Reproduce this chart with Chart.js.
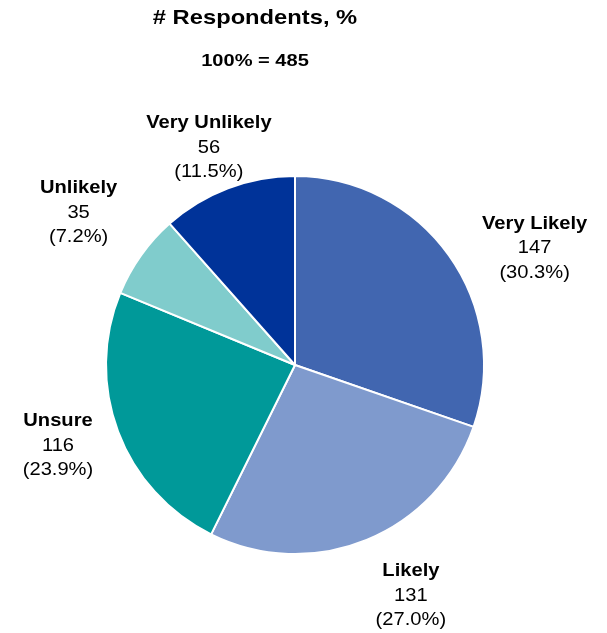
<!DOCTYPE html>
<html>
<head>
<meta charset="utf-8">
<title>Respondents</title>
<script src="https://cdn.jsdelivr.net/npm/chart.js@4.4.1/dist/chart.umd.min.js"></script>
<style>
    html, body { margin: 0; padding: 0; background: #fff; }
    canvas { display: block; }
</style>
</head>
<body>
<canvas id="chart-pie" width="607" height="633"></canvas>
<script>
'use strict';

// Survey answers, clockwise from 12 o'clock
let categories = ['Very Likely', 'Likely', 'Unsure', 'Unlikely', 'Very Unlikely'];
let respondents = [147, 131, 116, 35, 56];
let sliceColors = ['#4166b0', '#7f9acd', '#009999', '#80cccc', '#003399'];
let heading = '# Respondents, %';

let total = respondents.reduce((a, b) => a + b, 0);

let fontFamily = '"Liberation Sans", Arial, sans-serif';

// fillText with a horizontal stretch (the labels use a wide face)
function stretchText(ctx, text, x, y, font, sx) {
    ctx.save();
    ctx.font = font;
    ctx.translate(x, y);
    ctx.scale(sx, 1);
    ctx.fillText(text, 0, 0);
    ctx.restore();
}

let headingPlugin = {
    id: 'heading',
    afterDraw(chart, args, opts) {
        let ctx = chart.ctx;
        ctx.save();
        ctx.fillStyle = '#000';
        ctx.textAlign = 'center';
        ctx.textBaseline = 'alphabetic';
        stretchText(ctx, opts.title, opts.x, 24, 'bold 21px ' + fontFamily, 1.13);
        stretchText(ctx, opts.subtitle, opts.x, 66, 'bold 17px ' + fontFamily, 1.18);
        ctx.restore();
    }
};

// name / count / share placed just outside each slice
let sliceLabels = {
    id: 'sliceLabels',
    afterDatasetsDraw(chart, args, opts) {
        let ctx = chart.ctx;
        let meta = chart.getDatasetMeta(0);
        let values = chart.data.datasets[0].data;
        let sum = values.reduce((a, b) => a + b, 0);
        let bold = 'bold ' + opts.size + 'px ' + fontFamily;
        let plain = opts.size + 'px ' + fontFamily;
        let lh = opts.lineHeight;

        ctx.save();
        ctx.fillStyle = '#000';
        ctx.textAlign = 'center';
        ctx.textBaseline = 'middle';

        meta.data.forEach(function(arc, i) {
            let p = arc.getProps(['x', 'y', 'startAngle', 'endAngle', 'outerRadius'], true);
            let mid = (p.startAngle + p.endAngle) / 2;
            let lines = [
                chart.data.labels[i],
                String(values[i]),
                '(' + (values[i] / sum * 100).toFixed(1) + '%)'
            ];

            let w = 0;
            lines.forEach(function(t, j) {
                ctx.font = j === 0 ? bold : plain;
                w = Math.max(w, ctx.measureText(t).width * opts.stretch);
            });
            let h = lh * lines.length;

            let cos = Math.cos(mid), sin = Math.sin(mid);
            let d = p.outerRadius + opts.padding + w / 2 * Math.abs(cos) + h / 2 * Math.abs(sin);
            let nudge = opts.nudge[i] || [0, 0];
            let cx = p.x + d * cos + nudge[0];
            let cy = p.y + d * sin + nudge[1];

            lines.forEach(function(t, j) {
                stretchText(ctx, t, cx, cy + (j - 1) * lh, j === 0 ? bold : plain, opts.stretch);
            });
        });
        ctx.restore();
    }
};

let config = {
    type: 'pie',
    data: {
        labels: categories,
        datasets: [{
            data: respondents,
            backgroundColor: sliceColors,
            borderColor: '#ffffff',
            borderWidth: 2
        }]
    },
    options: {
        responsive: false,
        animation: false,
        devicePixelRatio: 1,
        layout: {
            padding: { left: 105, right: 122, top: 175, bottom: 78 }
        },
        plugins: {
            legend: { display: false },
            tooltip: { enabled: false },
            heading: {
                title: heading,
                subtitle: '100% = ' + total,
                x: 255
            },
            sliceLabels: {
                size: 19,
                stretch: 1.06,
                lineHeight: 24.5,
                padding: 14,
                nudge: [[22, 38], [21, -1], [-4, -7], [-8, -4], [6, 25]]
            }
        }
    },
    plugins: [headingPlugin, sliceLabels]
};

let ctx = document.getElementById('chart-pie').getContext('2d');
window.pieChart = new Chart(ctx, config);
</script>
</body>
</html>
